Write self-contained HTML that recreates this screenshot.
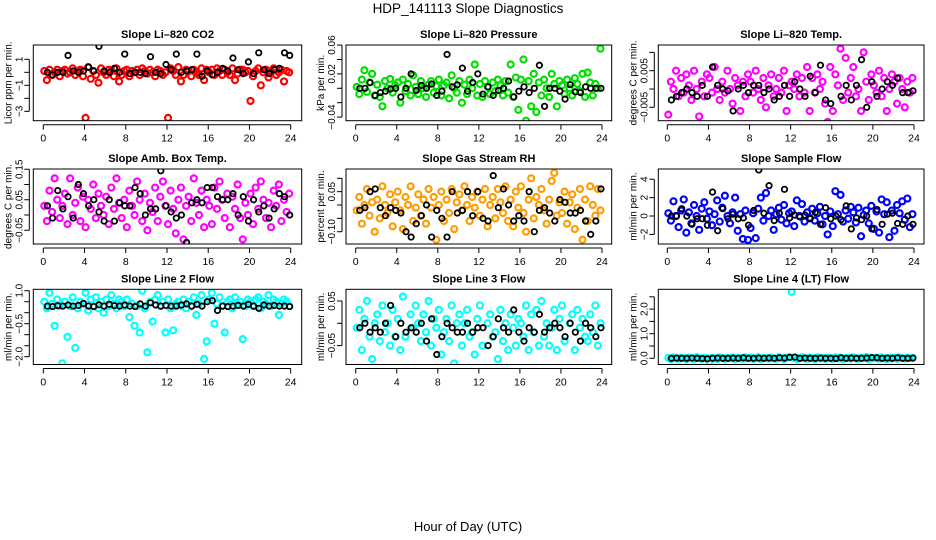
<!DOCTYPE html>
<html><head><meta charset="utf-8"><title>HDP_141113 Slope Diagnostics</title>
<style>
html,body{margin:0;padding:0;background:#fff;}
svg{display:block;font-family:"Liberation Sans",Arial,sans-serif;}
</style></head>
<body>
<svg id="chart" width="936" height="540" viewBox="0 0 936 540" xmlns="http://www.w3.org/2000/svg">
<rect x="0" y="0" width="936" height="540" fill="#fff"/>
<text x="468" y="13" text-anchor="middle" font-size="13.5" fill="#000">HDP_141113  Slope Diagnostics</text>
<text x="468" y="531" text-anchor="middle" font-size="13" fill="#000">Hour of Day (UTC)</text>
</svg>
<script>
const colorHours = [
0.1,0.35,0.6,0.85,1.1,1.35,1.6,1.85,2.1,2.35,2.6,2.85,3.1,3.35,3.6,3.85,
4.1,4.35,4.6,4.85,5.1,5.35,5.6,5.85,6.1,6.35,6.6,6.85,7.1,7.35,7.6,7.85,
8.1,8.35,8.6,8.85,9.1,9.35,9.6,9.85,10.1,10.35,10.6,10.85,11.1,11.35,11.6,11.85,
12.1,12.35,12.6,12.85,13.1,13.35,13.6,13.85,14.1,14.35,14.6,14.85,15.1,15.35,15.6,15.85,
16.1,16.35,16.6,16.85,17.1,17.35,17.6,17.85,18.1,18.35,18.6,18.85,19.1,19.35,19.6,19.85,
20.1,20.35,20.6,20.85,21.1,21.35,21.6,21.85,22.1,22.35,22.6,22.85,23.1,23.35,23.6,23.85];
const blackHours = [
0.4,0.9,1.4,1.9,2.4,2.9,3.4,3.9,4.4,4.9,5.4,5.9,6.4,6.9,7.4,7.9,8.4,8.9,9.4,9.9,10.4,10.9,11.4,11.9,
12.4,12.9,13.4,13.9,14.4,14.9,15.4,15.9,16.4,16.9,17.4,17.9,18.4,18.9,19.4,19.9,20.4,20.9,21.4,21.9,22.4,22.9,23.4,23.9];
const xTicks = [0,4,8,12,16,20,24];

const co2Color = [0.1,-0.6,0.2,-0.2,0.0,0.2,-0.3,0.1, 0.2,-0.1,0.0,0.3,-0.2,0.1,0.2,-0.3,
-3.5,0.4,-0.5,0.1,-0.2,-0.8,0.3,0.0, -0.2,0.2,0.1,-0.3,0.3,-0.7,-0.2,0.1,
0.2,-0.3,0.1,0.0,0.2,-0.2,0.3,0.1, -0.1,0.2,0.0,-0.3,0.2,0.1,-0.2,0.0,
-3.5,0.3,0.1,-0.2,0.4,-0.7,-0.2,0.2, 0.1,-0.3,0.2,0.0,-0.2,0.3,-0.6,0.2,
0.0,0.2,-0.2,0.3,0.1,-0.2,0.2,0.0, -0.2,0.3,-0.6,-0.1,0.2,0.2,0.0,0.1,
-2.2,-0.3,0.1,0.3,-1.0,0.0,0.2,-0.4, 0.1,0.3,-0.2,0.0,0.2,-0.7,0.1,0.0];
const co2Black = [0.0,-0.2,0.0,0.0,1.3,0.1,0.0,0.1,0.4,0.1,2.0,0.1,
0.0,0.3,0.0,1.4,-0.1,0.0,0.0,-0.1,1.2,0.0,-0.1,0.6,
0.2,1.4,0.0,0.1,0.2,1.4,-0.3,0.1,-0.2,0.0,0.3,0.1,
1.1,0.2,-0.1,0.8,-0.1,1.5,0.2,-0.1,0.2,0.3,1.5,1.3];

const presColor = [0.002,-0.008,0.012,0.025,-0.005,0.008,0.020,-0.010, 0.005,-0.012,-0.025,0.010,0.000,0.013,-0.006,0.004,
0.008,-0.020,0.012,-0.004,0.006,-0.010,0.018,0.002, -0.008,0.010,0.000,-0.012,0.005,0.010,-0.006,0.003,
0.012,-0.010,0.004,0.008,-0.014,0.018,0.000,-0.006, 0.010,-0.020,0.005,-0.008,0.012,0.000,0.033,-0.010,
0.006,-0.012,0.010,0.002,-0.008,0.008,-0.004,0.012, 0.004,-0.010,0.010,-0.006,0.033,-0.012,0.015,-0.030,
0.012,0.040,-0.045,0.010,-0.025,0.020,-0.033,0.008, -0.010,0.012,0.000,-0.012,0.020,0.006,-0.025,0.010,
0.004,-0.008,0.012,0.000,-0.010,0.014,0.006,-0.004, 0.020,-0.012,0.022,0.008,-0.010,0.006,0.000,0.055];
const presBlack = [0.000,0.000,0.008,-0.010,-0.006,-0.004,-0.001,0.000,-0.012,0.000,0.020,-0.003,
0.004,0.000,0.006,-0.010,-0.004,0.047,0.002,0.005,0.028,-0.004,0.008,0.020,
-0.008,0.002,-0.010,-0.003,0.000,0.010,-0.012,-0.004,0.002,-0.006,0.000,0.032,
-0.025,0.000,0.000,-0.004,-0.015,0.005,-0.005,-0.006,0.002,0.000,0.000,0.000];

const tempColor = [-0.007,0.002,0.000,0.005,-0.002,0.003,-0.001,0.004, 0.001,-0.003,0.005,0.000,-0.0075,0.002,-0.002,0.004,
0.003,-0.001,0.006,0.000,-0.003,0.002,-0.001,0.005, 0.000,-0.004,0.003,0.001,-0.006,0.002,-0.002,0.004,
0.002,-0.001,0.005,0.000,-0.003,0.003,-0.005,0.001, 0.004,-0.002,0.000,0.003,-0.001,0.005,-0.006,0.001,
0.002,0.000,0.004,-0.002,0.003,-0.001,0.006,-0.006, 0.003,-0.001,0.004,0.000,0.002,-0.004,-0.009,0.006,
-0.006,0.004,0.001,0.011,-0.003,0.0085,-0.001,0.003, 0.006,-0.002,0.000,-0.006,0.010,0.002,-0.003,0.004,
0.001,-0.001,0.005,-0.002,0.003,-0.006,0.000,0.004, 0.002,-0.004,0.003,0.000,-0.005,0.002,-0.001,0.003];
const tempBlack = [-0.003,-0.002,-0.001,0.000,-0.001,-0.002,0.001,-0.002,0.006,0.001,0.000,-0.0005,
-0.006,0.000,0.001,-0.001,0.001,0.001,-0.001,0.000,-0.003,-0.002,0.001,-0.002,
0.002,0.000,-0.002,0.0035,-0.001,0.0065,-0.003,-0.004,-0.010,-0.002,0.001,-0.003,
0.001,0.008,-0.005,0.002,-0.002,0.000,0.002,0.001,0.003,-0.001,-0.001,-0.0005];

const ambColor = [0.03,-0.02,0.08,0.01,0.12,0.05,-0.01,0.03, 0.07,-0.03,0.12,0.00,0.04,0.09,-0.02,0.06,
-0.04,0.05,0.02,0.10,-0.01,0.07,0.03,0.00, 0.06,-0.03,0.09,0.02,0.12,0.04,-0.01,0.05,
-0.04,0.08,0.03,0.00,0.11,0.05,-0.02,0.07, -0.05,0.04,0.01,0.09,-0.02,0.06,0.11,0.03,
-0.03,0.08,0.02,-0.06,0.05,0.09,-0.08,0.03, 0.06,-0.02,0.12,0.04,0.00,0.08,-0.04,0.05,
0.03,-0.03,0.09,0.02,0.11,0.05,-0.01,0.07, -0.04,0.06,0.02,0.10,-0.01,-0.08,0.04,0.00,
0.07,-0.03,0.09,0.02,0.11,0.05,-0.01,0.04, -0.04,0.08,0.03,0.10,-0.02,0.05,0.01,0.07];
const ambBlack = [0.03,-0.01,0.08,0.02,0.06,-0.01,0.10,0.07,0.03,0.05,0.01,-0.02,
0.05,-0.02,0.04,0.03,0.03,0.09,0.07,0.00,0.02,0.02,0.145,0.03,
0.01,-0.01,0.00,-0.09,0.04,0.05,0.04,0.09,0.09,0.06,0.05,0.05,
0.07,0.00,0.06,-0.02,0.05,0.01,0.03,-0.01,0.02,0.07,0.06,0.00];

const rhColor = [-0.02,0.03,-0.07,0.00,0.06,-0.04,0.01,-0.10, 0.02,-0.05,0.07,0.00,-0.03,0.04,-0.08,0.01,
0.05,-0.02,-0.09,0.03,0.00,0.07,-0.06,-0.01, 0.04,-0.04,0.02,-0.07,0.06,-0.01,0.03,-0.13,
0.00,0.05,-0.06,0.02,-0.03,0.06,-0.09,0.01, 0.04,-0.02,0.07,0.00,-0.06,0.03,-0.01,0.05,
-0.04,0.02,0.06,-0.08,0.00,0.03,-0.05,0.06, 0.01,-0.03,0.07,-0.06,0.02,-0.08,0.05,-0.01,
0.07,-0.03,-0.10,0.02,0.10,-0.05,0.03,0.00, 0.06,-0.02,-0.07,0.02,0.09,0.12,-0.04,0.01,
-0.03,0.05,-0.07,0.01,0.04,-0.09,-0.01,0.06, -0.13,0.02,-0.06,0.07,0.00,-0.04,0.06,-0.02];
const rhBlack = [-0.02,-0.01,0.05,0.06,-0.01,-0.04,-0.01,-0.02,-0.03,-0.10,-0.12,-0.07,
-0.04,0.00,-0.12,-0.02,-0.05,-0.12,0.05,-0.03,-0.02,0.05,-0.04,0.05,
-0.05,-0.06,0.11,-0.01,0.06,0.00,-0.06,-0.04,-0.06,0.05,-0.10,-0.02,
-0.01,-0.03,-0.06,0.02,0.01,-0.03,-0.03,-0.02,-0.06,-0.11,-0.06,0.06];

const flowColor = [0.3,-0.5,1.6,0.0,-1.2,0.6,1.8,-1.8, 0.4,-0.8,1.2,0.0,-1.5,0.8,1.5,-0.3,
0.5,-1.0,0.2,1.7,-0.6,0.9,2.2,0.0, -0.8,0.4,2.0,-1.6,0.2,-2.5,0.6,-2.6,
-1.3,0.3,-2.4,0.8,2.0,-0.5,2.5,0.0, 0.6,-1.5,0.2,0.9,-0.4,1.2,-0.8,0.3,
0.5,-1.1,1.7,0.0,1.3,-0.6,0.4,-0.2, 0.8,-0.5,0.3,1.0,-0.9,0.0,-2.0,0.5,
-1.1,2.7,0.2,2.3,-0.6,0.6,-0.3,1.0, 0.4,-0.7,0.9,-2.2,0.1,0.6,-0.8,1.1,
-1.4,0.5,-1.8,1.8,0.2,1.5,-2.3,0.6, -1.6,1.2,0.3,1.6,-0.4,1.9,-1.2,0.2];
const flowBlack = [0.0,0.0,0.8,0.0,-0.9,-0.3,-0.3,-1.0,2.6,-1.6,0.8,-0.3,
0.2,-0.3,-0.2,-1.0,0.6,5.0,0.3,3.3,-0.5,0.3,2.9,-0.2,
0.1,-0.1,0.1,-0.3,0.4,-0.9,0.9,-0.3,0.0,-0.4,1.1,-1.4,
-0.2,-0.4,0.0,-1.4,0.7,-0.9,0.2,0.3,-0.8,-0.9,0.0,-0.9];

const line2Color = [0.5,0.2,0.9,0.4,-0.6,0.6,0.3,-2.3, 0.5,-1.1,0.3,0.7,-1.6,0.2,0.5,0.4,
0.9,0.1,0.6,0.3,0.7,0.2,0.5,0.0, 0.6,0.3,0.8,0.4,0.2,0.6,0.5,0.3,
0.6,-0.2,0.4,-0.6,0.3,-0.9,1.0,0.2, -1.8,0.5,-0.4,0.6,0.8,0.3,0.5,-0.9,
0.6,0.2,-0.8,0.4,0.5,0.3,0.6,0.2, 0.5,0.3,0.7,-0.1,0.4,0.8,-2.1,-1.3,
0.6,0.9,-0.5,0.4,0.7,0.3,-0.9,0.5, 0.6,0.2,0.7,0.4,0.5,-1.2,0.3,0.6,
0.5,0.3,0.6,0.7,0.2,0.5,0.4,0.8, 0.3,0.6,0.5,-0.1,0.4,0.6,0.5,0.3];
const line2Black = [0.3,0.28,0.32,0.3,0.35,0.3,0.33,0.42,0.3,0.28,0.36,0.3,
0.38,0.32,0.3,0.35,0.3,0.28,0.4,0.3,0.45,0.35,0.3,0.33,
0.3,0.3,0.35,0.4,0.3,0.38,0.3,0.5,0.55,0.1,0.3,0.28,
0.3,0.33,0.3,0.38,0.3,0.2,0.35,0.3,0.33,0.3,0.3,0.28];

const line3Color = [-0.01,0.03,-0.06,0.01,0.05,-0.03,-0.08,0.00, 0.02,-0.04,0.04,-0.02,0.00,-0.05,0.03,-0.03,
0.01,-0.06,0.06,-0.03,-0.11,0.02,-0.01,0.04, 0.00,-0.04,0.02,-0.02,0.05,-0.05,0.01,-0.01,
0.03,-0.07,-0.02,0.01,-0.04,0.04,-0.09,0.00, 0.02,-0.05,0.00,0.03,-0.03,-0.02,-0.07,0.01,
0.04,-0.05,-0.11,0.00,0.02,-0.03,-0.02,-0.08, 0.03,-0.04,0.00,-0.06,0.02,-0.01,-0.05,0.01,
0.00,-0.03,0.04,-0.06,0.02,-0.02,0.03,-0.05, 0.05,-0.03,0.00,-0.05,-0.01,0.03,-0.06,0.01,
0.04,-0.04,-0.11,0.00,0.02,-0.06,0.03,-0.01, 0.01,-0.03,-0.04,0.02,-0.02,0.04,-0.05,0.00];
const line3Black = [-0.01,0.00,-0.02,-0.01,-0.02,0.00,0.04,-0.03,0.00,-0.02,-0.01,-0.02,
0.00,-0.04,0.01,-0.07,-0.03,0.00,-0.01,-0.02,-0.02,0.00,-0.02,-0.01,
-0.01,-0.05,-0.03,0.01,-0.01,-0.02,0.03,-0.02,-0.04,-0.01,-0.02,0.02,
-0.02,-0.01,0.00,-0.01,-0.03,0.00,-0.02,-0.04,0.00,-0.01,-0.03,-0.01];

const line4Color = [0.02,-0.03,0.04,0.00,-0.02,0.03,0.01,-0.04, 0.03,0.00,-0.03,0.05,0.01,-0.02,0.02,0.00,
-0.15,0.03,0.00,-0.03,0.04,0.01,-0.02,0.02, 0.00,0.03,-0.03,0.02,0.01,-0.02,0.04,0.00,
0.03,-0.02,0.01,0.04,-0.03,0.00,0.02,-0.01, 0.03,0.00,-0.02,0.04,0.01,-0.03,0.02,0.05,
2.7,0.02,-0.03,0.01,0.04,0.00,-0.02,0.03, 0.01,-0.03,0.04,0.00,0.02,-0.02,0.03,0.01,
-0.02,0.04,0.00,0.03,-0.03,0.01,0.02,-0.01, 0.04,0.00,-0.02,0.03,0.01,0.05,-0.03,0.02,
0.00,0.03,-0.02,0.04,0.01,-0.03,0.02,0.00, 0.03,-0.02,0.04,0.01,-0.01,0.03,0.00,0.02];
const line4Black = [0.0,0.01,0.0,0.0,0.01,0.0,-0.01,-0.02,0.0,0.01,0.0,0.0,
0.01,0.0,0.02,0.0,0.0,0.01,0.0,0.01,0.0,0.02,0.01,0.04,
0.05,0.0,0.01,0.0,0.0,0.01,0.0,0.0,-0.01,0.02,0.0,0.01,
0.0,0.0,0.01,0.03,0.02,0.0,0.01,0.0,0.02,0.0,0.0,0.01];

const panelTitles = ["Slope Li\u2013820 CO2","Slope Li\u2013820 Pressure","Slope Li\u2013820 Temp.","Slope Amb. Box Temp.","Slope Gas Stream RH","Slope Sample Flow","Slope Line 2 Flow","Slope Line 3 Flow","Slope Line 4 (LT) Flow"];
const yTitles = ["Licor ppm per min.","kPa per min.","degrees C per min.","degrees C per min.","percent per min.","ml/min per min.","ml/min per min.","ml/min per min.","ml/min per min."];
const yTickSets = [[1,0,-1,-2,-3],[0.06,0.04,0.02,0,-0.02,-0.04],[0.01,0.005,0,-0.005],[0.15,0.1,0.05,0,-0.05],[0.1,0.05,0,-0.05,-0.1],[4,2,0,-2],[1,0.5,0,-0.5,-1,-1.5,-2],[0.05,0,-0.05],[2.5,2,1.5,1,0.5,0]];
const yLabelSets = [["1","-1","-3"],["0.06","0.02","-0.04"],["0.005","-0.005"],["0.15","0.05","-0.05"],["0.05","-0.10"],["4","2","0","-2"],["1.0","-0.5","-2.0"],["0.05","-0.05"],["2.0","1.0","0.0"]];
const yLabelVals = [[1,-1,-3],[0.06,0.02,-0.04],[0.005,-0.005],[0.15,0.05,-0.05],[0.05,-0.1],[4,2,0,-2],[1,-0.5,-2],[0.05,-0.05],[2,1,0]];
const yDomains = [[-3.72,2.1],[-0.045,0.0601],[-0.00866,0.01202],[-0.0951,0.1508],[-0.146,0.1348],[-3.04,5.11],[-2.355,1.064],[-0.0924,0.0762],[-0.252,2.805]];
const colorSeries = [co2Color,presColor,tempColor,ambColor,rhColor,flowColor,line2Color,line3Color,line4Color];
const blackSeries = [co2Black,presBlack,tempBlack,ambBlack,rhBlack,flowBlack,line2Black,line3Black,line4Black];
const seriesColors = ["#ff0000","#00e000","#ff00ff","#ff00ff","#ff9c00","#0000ff","#00ffff","#00ffff","#00ffff"];
const panelNames = ["co2","pressure","li820-temp","amb-box-temp","gas-rh","sample-flow","line2-flow","line3-flow","line4-flow"];

// layout (pixel geometry, not data)
const colBox = [[33.3,301.7,43.3,290.7],[346,611.7,355.7,602],[658.3,924,667.3,914]];
const rowBox = [[45,120.7],[169,244],[289.3,364.5]];

const NS = "http://www.w3.org/2000/svg";
const svg = document.getElementById("chart");
function mk(tag, attrs, parent){const e=document.createElementNS(NS,tag);for(const k in attrs)e.setAttribute(k,attrs[k]);(parent||svg).appendChild(e);return e;}

for (let p=0;p<9;p++){
  const c=colBox[p%3], r=rowBox[Math.floor(p/3)];
  const [bl,br,x0,x24]=c, [bt,bb]=r;
  const [lo,hi]=yDomains[p];
  const xs=h=>x0+(x24-x0)*h/24;
  const ys=v=>bb-(v-lo)/(hi-lo)*(bb-bt);
  const g=mk("g",{});
  
  
  const t=mk("text",{x:(bl+br)/2,y:bt-7,"text-anchor":"middle","font-size":"11","font-weight":"bold"},g);
  t.textContent=panelTitles[p];
  
  
  const cp=mk("clipPath",{id:"clip"+p},g);
  mk("rect",{x:bl,y:bt,width:br-bl,height:bb-bt},cp);
  const pts=mk("g",{"clip-path":"url(#clip"+p+")"},g);
  
  
  colorSeries[p].forEach((v,i)=>{
    const ci=mk("circle",{cx:xs(colorHours[i]),cy:ys(v),r:3,fill:"none",stroke:seriesColors[p],"stroke-width":2.2},pts);
    
    
  });
  blackSeries[p].forEach((v,i)=>{
    const ci=mk("circle",{cx:xs(blackHours[i]),cy:ys(v),r:2.7,fill:"none",stroke:"#000","stroke-width":1.8},pts);
    
    
  });
  const box=mk("rect",{x:bl,y:bt,width:br-bl,height:bb-bt,fill:"none",stroke:"#000","stroke-width":1},g);
  
  
  const xa=mk("g",{},g);
  
  
  mk("line",{x1:xs(0),x2:xs(24),y1:bb+4,y2:bb+4,stroke:"#000"},xa);
  xTicks.forEach(h=>{
    mk("line",{x1:xs(h),x2:xs(h),y1:bb+4,y2:bb+9,stroke:"#000"},xa);
    const tl=mk("text",{x:xs(h),y:bb+21,"text-anchor":"middle","font-size":"10.5"},xa);
    tl.textContent=String(h);
    
    
  });
  const ya=mk("g",{},g);
  
  
  const tk=yTickSets[p];
  mk("line",{x1:bl-4,x2:bl-4,y1:ys(tk[0]),y2:ys(tk[tk.length-1]),stroke:"#000"},ya);
  tk.forEach(v=>{mk("line",{x1:bl-9,x2:bl-4,y1:ys(v),y2:ys(v),stroke:"#000"},ya);});
  yLabelSets[p].forEach((s,i)=>{
    const yy=ys(yLabelVals[p][i]);
    const tl=mk("text",{x:0,y:0,"text-anchor":"middle","font-size":"10",transform:"translate("+(bl-11)+","+yy+") rotate(-90)"},ya);
    tl.textContent=s.replace("-","\u2212");
    
    
  });
  const yt=mk("text",{x:0,y:0,"text-anchor":"middle","font-size":"10",transform:"translate("+(bl-22)+","+((bt+bb)/2)+") rotate(-90)"},g);
  yt.textContent=yTitles[p];
  
  
}
</script>
</body></html>
